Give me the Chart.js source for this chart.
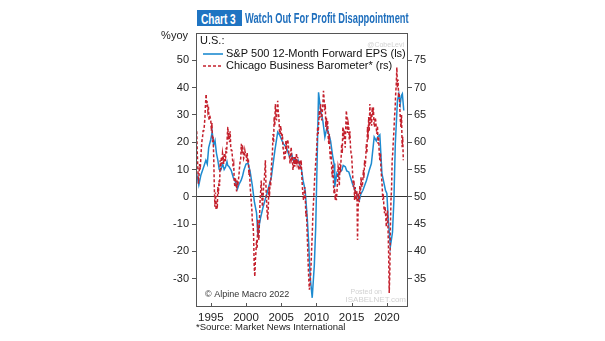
<!DOCTYPE html>
<html lang="en">

<head>
    <meta charset="UTF-8">
    <title>Chart 3 | Watch Out For Profit Disappointment</title>
    <script src="https://cdn.jsdelivr.net/npm/chart.js"></script>
    <style>
        body { margin: 0; background: #fff; font-family: 'Liberation Sans', Arial, sans-serif; }
        .janela { position: relative; width: 605px; height: 341px; overflow: hidden; }
        #grafico { position: absolute; left: 0; top: 0; }
        .tag {
            position: absolute; left: 197px; top: 10px; width: 45px; height: 16px;
            background: #1f74c2; overflow: hidden;
        }
        .tag span, .titulo span {
            display: inline-block; transform-origin: left center; white-space: nowrap;
            font: bold 14px 'Liberation Sans', Arial, sans-serif;
        }
        .tag span { color: #fff; line-height: 16px; margin-left: 4px; transform: scaleX(0.72); }
        .titulo { position: absolute; left: 245px; top: 9px; color: #1f6fbd; }
        .titulo span { line-height: 17px; transform: scaleX(0.665); }
        .fonte {
            position: absolute; left: 196px; top: 321px; color: #222;
            font: 9.5px 'Liberation Sans', Arial, sans-serif; white-space: nowrap;
        }
    </style>
</head>

<body>
    <div class="janela">
        <canvas id="grafico" width="605" height="341"></canvas>
        <div class="tag"><span>Chart 3</span></div>
        <div class="titulo"><span>Watch Out For Profit Disappointment</span></div>
        <div class="fonte">*Source: Market News International</div>
    </div>

<script>

    // S&P 500 12-month forward EPS, %yoy (left scale)
    var epsAnos = [
        1992.9, 1993.3, 1993.6, 1994.0, 1994.3, 1994.5, 1994.7, 1995.0, 1995.2, 1995.4, 1995.6,
        1995.8, 1996.0, 1996.2, 1996.4, 1996.7, 1996.9, 1997.1, 1997.3, 1997.4, 1997.6, 1997.9, 1998.2, 1998.6,
        1998.8, 1999.0, 1999.3, 1999.5, 1999.7, 2000.0, 2000.3, 2000.6, 2000.9, 2001.2, 2001.5,
        2001.7, 2001.9, 2002.1, 2002.4, 2002.7, 2003.1, 2003.6, 2004.1, 2004.5, 2004.8,
        2005.3, 2005.7, 2006.2, 2006.5, 2006.7, 2007.0, 2007.2, 2007.4, 2007.9, 2008.1, 2008.4, 2008.7,
        2008.9, 2009.1, 2009.4, 2009.7, 2009.9, 2010.1, 2010.3, 2010.6, 2010.9, 2011.2,
        2011.5, 2012.0, 2012.3, 2012.5, 2012.6, 2012.9, 2013.1, 2013.3, 2013.6, 2013.8, 2014.1, 2014.3, 2014.6,
        2015.1, 2015.5, 2015.8, 2016.1, 2016.3, 2016.6, 2017.1, 2017.5, 2017.8, 2018.2, 2018.5, 2018.7,
        2019.0, 2019.3, 2019.8, 2020.0, 2020.2, 2020.5, 2020.8, 2021.0, 2021.2, 2021.5,
        2021.7, 2021.9, 2022.05, 2022.2, 2022.4
    ];
    var epsValores = [
        9.7, 4.3, 8, 11, 13.4, 12, 18, 21, 23.7, 19, 20.6,
        16, 13.4, 10, 9.7, 12, 10, 10.9, 12.8, 11.5, 11, 9.7, 7, 4.9,
        3, 4.5, 6, 7.5, 9.7, 12, 12.3, 9, 4, -2, -6,
        -14.6, -10, -7.3, -4, -1.2, 2.4, 7.3, 17, 23.7, 22.5,
        19.4, 18.2, 14.6, 15.5, 13.4, 14, 12.5, 13.4, 9.7, 6, 2.4, -8,
        -17, -29, -37, -25, -11, 13.4, 38.3, 31.6, 28, 21.9,
        25.5, 20.6, 15, 12.2, 3.6, 8.6, 7.5, 9, 9.7, 11.5, 11, 9.5, 9.1,
        4.9, 2.4, 0.5, -1.2, 1, 2.4, 6, 9.7, 12.2, 21.9, 20.5, 21.9,
        22.7, 8.5, 2.4, 1.2, -8.5, -18.2, -13, -1.2, 19.4, 35.2,
        37.7, 34, 37, 37.7, 31.6
    ];

    // Chicago Business Barometer, monthly from Jan 1993 (right scale)
    var chicagoInicio = 1993;
    var chicagoValores = [
        62, 58, 55, 52.4, 54, 56, 55, 57, 59, 60.3, 61, 62.1,
        62.1, 63, 64.5, 67, 68.8, 66.5, 67.5, 65.8, 66.5, 64, 65, 64.5,
        64, 62.1, 63.5, 60, 61, 57.3, 51.8, 48.2, 50.8, 47.6, 49, 47.8,
        51.8, 50.5, 53, 52, 56.7, 55, 57.3, 56, 58, 57.3, 56, 58,
        57.9, 56.5, 59, 58, 61, 62.8, 60.5, 61.7, 60, 62, 59, 58.5,
        58.5, 57, 55.5, 56, 53, 51.8, 53.5, 52.4, 51, 53, 52, 53,
        54, 55.5, 56.5, 57, 59.7, 58, 59.5, 58.5, 57, 57.3, 58.5, 57.9,
        57.9, 56.5, 58, 56.7, 57, 54, 55, 52, 50.6, 49, 47.6, 45,
        45, 42.7, 37.2, 35.4, 38.5, 40, 42.1, 40.5, 45.8, 43, 42.1, 46,
        49.4, 51, 53, 50, 48.2, 50, 51.8, 53, 54.6, 56.7, 52, 49.4,
        47, 45.8, 48, 51.8, 50, 53, 52, 55, 56.7, 58, 61.5, 60,
        64.6, 63, 67, 65, 64, 66, 67.6, 65.5, 64.6, 62, 61.5, 63,
        62.1, 60.5, 61.5, 59, 58.5, 57, 56.7, 58, 60.3, 59, 59.7, 60.5,
        59.7, 58, 57.5, 56.1, 58, 59.1, 57, 57.5, 54.9, 56, 57.3, 55.5,
        57.3, 56, 58, 56.5, 57.3, 55.5, 54.9, 56, 56.7, 55, 56.7, 54,
        51.8, 50.5, 49.4, 50, 51.8, 50, 46.4, 47.5, 44, 40.9, 37.5, 34.8,
        33, 34, 35.5, 38, 40.9, 43.5, 47, 49, 51.2, 53.5, 55, 56.7,
        58, 60, 62.8, 61.5, 64, 65.8, 64.5, 67, 66, 64, 65.5, 67,
        69.4, 68, 65.8, 67, 62.8, 64.5, 62, 64, 61, 59.7, 61.5, 58,
        56.7, 58.5, 55, 53.6, 56, 52.5, 50.6, 51.5, 49.4, 50.5, 49.4, 51,
        53, 55.5, 54.9, 52, 56.1, 54.5, 57, 59.7, 58, 62.8, 60.5, 62,
        61.7, 59, 63, 65.8, 64, 61.7, 63.5, 62.8, 60.5, 62, 59.1, 58,
        57.5, 55.5, 53.5, 51.8, 53, 49.4, 51.8, 50, 49.4, 51, 42.1, 48,
        50.6, 49, 52, 50.5, 53.6, 52, 51.8, 53, 54.9, 53.5, 56.7, 55.5,
        57, 59.7, 58, 62.8, 60.5, 64.6, 62, 67, 63.4, 65, 63, 66.4,
        65, 66.4, 63.5, 62.8, 64.5, 64, 62.5, 61.5, 63, 59.7, 61, 58,
        56.7, 58, 55, 53.6, 52, 49.4, 50.5, 48, 47, 48.2, 46.5, 44.5,
        46.4, 47.5, 44, 39.7, 32.4, 36, 44.5, 49.4, 51.5, 56.7, 58, 60.3,
        62, 64.6, 66, 68.8, 70.6, 73.7, 70, 71.5, 68.2, 69, 66.4, 64,
        62.8, 65, 59.1, 61, 56.7
    ];

    var anosTicks = [1995, 2000, 2005, 2010, 2015, 2020];
    var esquerdaTicks = [-30, -20, -10, 0, 10, 20, 30, 40, 50];
    var direitaTicks = [35, 40, 45, 50, 55, 60, 65, 70, 75];

    var corEps = '#1e8bd0';
    var corChicago = '#c4202c';

    function pontos(anos, valores) {
        var lista = [];
        for (var i = 0; i < anos.length; i++) {
            lista.push({ x: anos[i], y: valores[i] });
        }
        return lista;
    }

    function pontosMensais(inicio, valores) {
        var lista = [];
        for (var i = 0; i < valores.length; i++) {
            lista.push({ x: inicio + i / 12, y: valores[i] });
        }
        return lista;
    }

    function fixarTicks(lista) {
        return function (scale) {
            scale.ticks = lista.map(function (v) { return { value: v }; });
        };
    }

    // moldura, legenda interna e textos soltos
    var extras = {
        id: 'extras',
        afterDraw: function (chart) {
            var ctx = chart.ctx;
            var a = chart.chartArea;
            var x = chart.scales.x;
            ctx.save();

            ctx.strokeStyle = '#555';
            ctx.lineWidth = 1;
            ctx.strokeRect(a.left + 0.5, a.top + 0.5, a.right - a.left - 1, a.bottom - a.top);

            // pequenos ticks do eixo x, para dentro
            anosTicks.forEach(function (ano) {
                var px = Math.round(x.getPixelForValue(ano)) + 0.5;
                ctx.beginPath();
                ctx.moveTo(px, a.bottom);
                ctx.lineTo(px, a.bottom - 3);
                ctx.stroke();
            });

            ctx.fillStyle = '#111';
            ctx.font = '11px "Liberation Sans", Arial, sans-serif';
            ctx.textBaseline = 'middle';
            ctx.fillText('U.S.:', a.left + 4, a.top + 8);

            ctx.lineWidth = 1.6;
            ctx.strokeStyle = corEps;
            ctx.beginPath();
            ctx.moveTo(a.left + 7, a.top + 21);
            ctx.lineTo(a.left + 27, a.top + 21);
            ctx.stroke();
            ctx.fillText('S&P 500 12-Month Forward EPS (ls)', a.left + 30, a.top + 21);

            ctx.strokeStyle = corChicago;
            ctx.setLineDash([3, 2]);
            ctx.beginPath();
            ctx.moveTo(a.left + 7, a.top + 33);
            ctx.lineTo(a.left + 27, a.top + 33);
            ctx.stroke();
            ctx.setLineDash([]);
            ctx.fillText('Chicago Business Barometer* (rs)', a.left + 30, a.top + 33);

            ctx.font = '9px "Liberation Sans", Arial, sans-serif';
            ctx.fillStyle = '#333';
            ctx.fillText('\u00a9 Alpine Macro 2022', a.left + 9, a.bottom - 11);

            ctx.fillStyle = '#222';
            ctx.font = '11px "Liberation Sans", Arial, sans-serif';
            ctx.textAlign = 'right';
            ctx.fillText('%yoy', a.left - 8, a.top + 3);

            // marcas d'agua claras
            ctx.fillStyle = 'rgba(150,150,150,0.45)';
            ctx.font = '7px "Liberation Sans", Arial, sans-serif';
            ctx.fillText('@CobeLevi', a.right - 4, a.top + 12);
            ctx.fillText('Posted on', a.right - 26, a.bottom - 14);
            ctx.font = '8px "Liberation Sans", Arial, sans-serif';
            ctx.fillText('ISABELNET.com', a.right - 2, a.bottom - 6);

            ctx.restore();
        }
    };

    Chart.defaults.font.family = '"Liberation Sans", Arial, sans-serif';
    Chart.defaults.font.size = 11;
    Chart.defaults.color = '#222';

    var ctx = document.getElementById('grafico').getContext('2d');
    var grafico = new Chart(ctx, {
        type: 'line',
        data: {
            datasets: [{
                label: 'Chicago Business Barometer* (rs)',
                data: pontosMensais(chicagoInicio, chicagoValores),
                yAxisID: 'yDireita',
                borderColor: corChicago,
                borderWidth: 1.5,
                borderDash: [3, 2],
                pointRadius: 0,
                tension: 0
            }, {
                label: 'S&P 500 12-Month Forward EPS (ls)',
                data: pontos(epsAnos, epsValores),
                yAxisID: 'yEsquerda',
                borderColor: corEps,
                borderWidth: 1.5,
                pointRadius: 0,
                tension: 0
            }]
        },
        options: {
            responsive: false,
            animation: false,
            parsing: false,
            layout: {
                padding: { left: 156, right: 167, top: 33, bottom: 13 }
            },
            plugins: {
                legend: { display: false },
                tooltip: { enabled: false }
            },
            scales: {
                x: {
                    type: 'linear',
                    min: 1992.9,
                    max: 2023.0,
                    afterBuildTicks: fixarTicks(anosTicks),
                    afterFit: function (scale) { scale.height = 22; },
                    grid: { display: false, drawTicks: false },
                    border: { display: false },
                    ticks: {
                        padding: 5,
                        font: { size: 11.5 },
                        callback: function (v) { return String(v); }
                    }
                },
                yEsquerda: {
                    position: 'left',
                    min: -40,
                    max: 60,
                    afterBuildTicks: fixarTicks(esquerdaTicks),
                    afterFit: function (scale) { scale.width = 40; },
                    border: { display: false },
                    grid: {
                        color: function (c) { return c.tick && c.tick.value === 0 ? '#333' : 'rgba(0,0,0,0)'; },
                        tickColor: '#555',
                        tickLength: 4,
                        lineWidth: 1
                    },
                    ticks: { padding: 3 }
                },
                yDireita: {
                    position: 'right',
                    min: 30,
                    max: 80,
                    afterBuildTicks: fixarTicks(direitaTicks),
                    afterFit: function (scale) { scale.width = 30; },
                    border: { display: false },
                    grid: {
                        drawOnChartArea: false,
                        tickColor: '#555',
                        tickLength: 4
                    },
                    ticks: { padding: 2 }
                }
            }
        },
        plugins: [extras]
    });

</script>
</body>

</html>
